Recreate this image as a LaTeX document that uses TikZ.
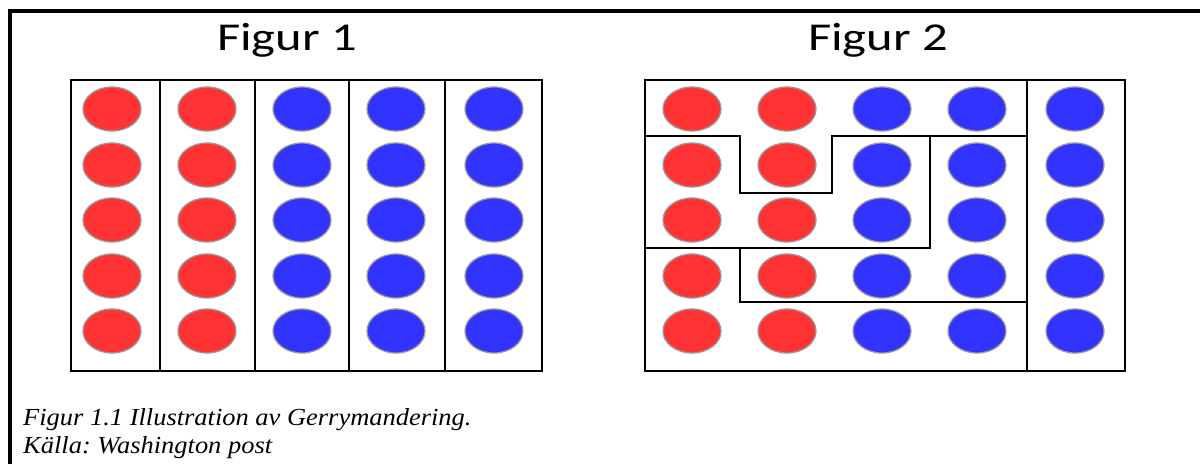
\documentclass[tikz,border=0pt]{standalone}
\usepackage{fontspec}
\setmainfont{Liberation Serif}
\newfontfamily\titlefont{Carlito}
\usetikzlibrary{shapes.geometric}
\frenchspacing
\definecolor{dotred}{RGB}{255,51,51}
\definecolor{dotblue}{RGB}{51,51,255}
\tikzset{
  dot/.style={ellipse, minimum width=58pt, minimum height=44pt, inner sep=0pt, draw=black!40, line width=1.3pt},
  reddot/.style={dot, fill=dotred},
  bluedot/.style={dot, fill=dotblue},
  boxline/.style={line width=2.6pt, line join=miter},
  frameline/.style={line width=4pt},
  titletext/.style={anchor=base, font=\titlefont\fontsize{39.5}{40}\selectfont},
  captext/.style={anchor=base west, inner sep=0pt, font=\itshape\fontsize{24.5}{28}\selectfont}
}
\begin{document}
\begin{tikzpicture}[x=1pt,y=-1pt]
\useasboundingbox (0,0) rectangle (1200,464);
\fill[white] (0,0) rectangle (1200,464);
% outer frame (top and left only)
\draw[frameline] (10,464) -- (10,11) -- (1200,11);
% titles
\node[titletext] (t1) at (287,50) {\scalebox{1.28}[1]{Figur 1}};
\node[titletext] (t2) at (878,50) {\scalebox{1.28}[1]{Figur 2}};
% Figure 1 box and columns
\draw[boxline] (71,80) rectangle (542,371);
\foreach \x in {160,255,349,445} \draw[boxline] (\x,80) -- (\x,371);
% Figure 2 box and districts
\draw[boxline] (645,80) rectangle (1125,371);
\draw[boxline] (1027,80) -- (1027,371);
\draw[boxline] (645,136) -- (740,136) -- (740,193) -- (832,193) -- (832,136) -- (1027,136);
\draw[boxline] (930,136) -- (930,248) -- (645,248);
\draw[boxline] (740,248) -- (740,302) -- (1027,302);
% dots
\foreach \r/\y in {1/109,2/165,3/220,4/276,5/331}{
  \foreach \c/\x in {1/112,2/207}{\node[reddot] (a\r\c) at (\x,\y) {};}
  \foreach \c/\x in {3/302,4/396,5/494}{\node[bluedot] (a\r\c) at (\x,\y) {};}
  \foreach \c/\x in {1/692,2/787}{\node[reddot] (b\r\c) at (\x,\y) {};}
  \foreach \c/\x in {3/882,4/977,5/1075}{\node[bluedot] (b\r\c) at (\x,\y) {};}
}
% caption
\node[captext] (c1) at (23,425) {\scalebox{1.08}[1]{Figur 1.1 Illustration av Gerrymandering.}};
\node[captext] (c2) at (23,453) {\scalebox{1.08}[1]{Källa: Washington post}};
\end{tikzpicture}
\end{document}
